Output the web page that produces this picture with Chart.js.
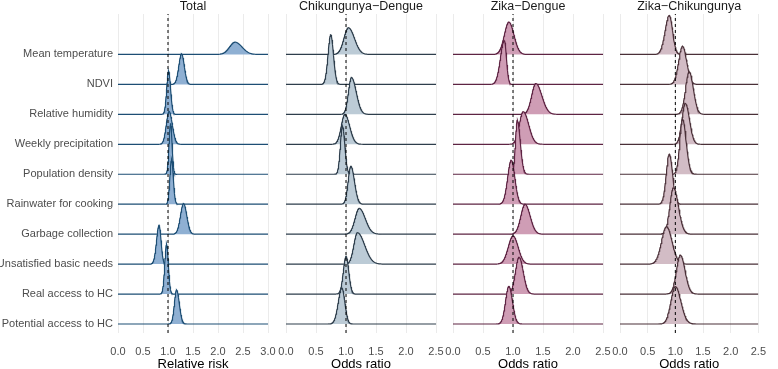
<!DOCTYPE html>
<html>
<head>
<meta charset="utf-8">
<script src="https://cdn.jsdelivr.net/npm/chart.js@4.4.1/dist/chart.umd.min.js"></script>
<style>
  html, body { margin: 0; padding: 0; background: #fff; }
  #wrap { position: relative; width: 778px; height: 369px; }
  #wrap canvas { position: absolute; left: 0; top: 0; }
</style>
</head>
<body>
<div id="wrap">
  <canvas id="gTotal" width="778" height="369"></canvas>
  <canvas id="gCD" width="778" height="369"></canvas>
  <canvas id="gZD" width="778" height="369"></canvas>
  <canvas id="gZC" width="778" height="369"></canvas>
</div>
<script>
// rows, top to bottom
const variables = ["Mean temperature", "NDVI", "Relative humidity", "Weekly precipitation",
  "Population density", "Rainwater for cooking", "Garbage collection",
  "Unsatisfied basic needs", "Real access to HC", "Potential access to HC"];

const ticksRR = [0, 0.5, 1, 1.5, 2, 2.5, 3];
const ticksOR = [0, 0.5, 1, 1.5, 2, 2.5];

// mode, left / right spread, ridge height (in row units)
const totalMode = [2.34, 1.27, 1.01, 1.02, 1.05, 1.07, 1.31, 0.82, 0.97, 1.17];
const totalLeft = [0.11, 0.055, 0.037, 0.055, 0.03, 0.033, 0.062, 0.05, 0.036, 0.043];
const totalRight = [0.14, 0.055, 0.04, 0.065, 0.03, 0.035, 0.065, 0.04, 0.036, 0.055];
const totalPeak = [0.41, 1.02, 1.45, 1.1, 1.7, 1.5, 1.02, 1.3, 1.67, 1.14];

const cdMode = [1.04, 0.745, 1.09, 0.98, 0.94, 1.08, 1.22, 1.19, 1.0, 0.93];
const cdLeft = [0.075, 0.045, 0.05, 0.06, 0.035, 0.045, 0.07, 0.06, 0.045, 0.06];
const cdRight = [0.1, 0.045, 0.08, 0.08, 0.04, 0.06, 0.1, 0.12, 0.045, 0.05];
const cdPeak = [0.89, 1.66, 1.23, 1.0, 1.6, 1.27, 0.86, 1.05, 1.26, 1.2];

const zdMode = [0.93, 0.855, 1.38, 1.17, 1.07, 0.97, 1.2, 1.0, 1.1, 0.93];
const zdLeft = [0.075, 0.065, 0.07, 0.065, 0.03, 0.06, 0.07, 0.08, 0.06, 0.055];
const zdRight = [0.085, 0.035, 0.1, 0.09, 0.05, 0.06, 0.085, 0.085, 0.07, 0.06];
const zdPeak = [1.08, 1.47, 1.03, 1.09, 1.8, 1.47, 1.0, 0.94, 1.23, 1.26];

const zcMode = [0.89, 1.13, 1.25, 1.18, 1.13, 0.89, 0.965, 0.84, 1.09, 1.0];
const zcLeft = [0.075, 0.07, 0.065, 0.06, 0.05, 0.055, 0.065, 0.09, 0.07, 0.08];
const zcRight = [0.06, 0.075, 0.075, 0.075, 0.065, 0.06, 0.09, 0.1, 0.085, 0.1];
const zcPeak = [1.3, 1.27, 1.42, 1.37, 1.83, 1.67, 1.55, 1.25, 1.3, 1.25];

const FONT = "'Liberation Sans', Arial, Helvetica, sans-serif";
const YMIN = -0.3, YMAX = 10.35;

const ridge = (mode, sl, sr, h, base, xmax) => {
  let pts = [];
  for (let i = 0; i <= 300; i++) {
    let x = xmax * i / 300;
    let s = x < mode ? sl : sr;
    let d = h * Math.exp(-0.5 * Math.pow((x - mode) / s, 2));
    pts.push({x: x, y: base + d});
  }
  return pts;
};

const panelTitle = {
  id: "panelTitle",
  afterDraw(chart, args, opts) {
    const {ctx, chartArea} = chart;
    ctx.save();
    ctx.font = "12.5px " + FONT;
    ctx.fillStyle = "#1a1a1a";
    ctx.textAlign = "center";
    ctx.textBaseline = "alphabetic";
    ctx.fillText(opts.text, (chartArea.left + chartArea.right) / 2, 9.5);
    ctx.restore();
  }
};

const panel = (id, titulo, ejeX, left, right, xmax, xticks, mode, sl, sr, peak, line, fill, showY) => {
  let dataset = [];
  // reference line at 1, drawn on top of everything
  dataset.push({
    data: [{x: 1, y: YMIN}, {x: 1, y: YMAX}],
    borderColor: "#000",
    borderWidth: 1,
    borderDash: [3, 3],
    pointRadius: 0,
    fill: false,
    order: 0
  });
  for (let i = 0; i < variables.length; i++) {
    let base = variables.length - 1 - i;
    dataset.push({
      label: variables[i],
      data: ridge(mode[i], sl[i], sr[i], peak[i], base, xmax),
      borderColor: line,
      borderWidth: 1.2,
      backgroundColor: fill,
      fill: {value: base},
      pointRadius: 0,
      tension: 0,
      order: base + 1   // lower rows are drawn over upper rows
    });
  }

  const config = {
    type: "line",
    data: {datasets: dataset},
    options: {
      responsive: false,
      animation: false,
      devicePixelRatio: 1,
      layout: {padding: {left: left, right: right, top: 14, bottom: 0}},
      scales: {
        x: {
          type: "linear",
          min: 0,
          max: xmax,
          afterBuildTicks: (scale) => { scale.ticks = xticks.map(v => ({value: v})); },
          afterFit: (scale) => { scale.height = 36; },
          ticks: {
            callback: (v) => Number(v).toFixed(1),
            color: "#4d4d4d",
            font: {family: FONT, size: 11},
            padding: 12,
            maxRotation: 0,
            autoSkip: false
          },
          grid: {color: "#ebebeb", lineWidth: 1, drawTicks: false},
          border: {display: false},
          title: {
            display: true,
            text: ejeX,
            color: "#000",
            font: {family: FONT, size: 13, lineHeight: 1},
            padding: {top: 0, bottom: -2}
          }
        },
        y: {
          type: "linear",
          display: showY,
          min: YMIN,
          max: YMAX,
          afterBuildTicks: (scale) => { scale.ticks = variables.map((v, k) => ({value: k})); },
          afterFit: (scale) => { scale.width = showY ? 118 : 0; },
          ticks: {
            callback: (v) => variables[variables.length - 1 - v],
            color: "#4d4d4d",
            font: {family: FONT, size: 11},
            padding: 5,
            autoSkip: false
          },
          grid: {display: false, drawTicks: false},
          border: {display: false}
        }
      },
      plugins: {
        legend: {display: false},
        tooltip: {enabled: false},
        panelTitle: {text: titulo}
      }
    },
    plugins: [panelTitle]
  };
  return new Chart(document.getElementById(id), config);
};

panel("gTotal", "Total", "Relative risk", 0, 778 - 268, 3, ticksRR,
  totalMode, totalLeft, totalRight, totalPeak, "#1d4e74", "#8fb0d3", true);
panel("gCD", "Chikungunya\u2212Dengue", "Odds ratio", 286, 778 - 436, 2.5, ticksOR,
  cdMode, cdLeft, cdRight, cdPeak, "#2e3e4c", "#bccbd6", false);
panel("gZD", "Zika\u2212Dengue", "Odds ratio", 453, 778 - 603, 2.5, ticksOR,
  zdMode, zdLeft, zdRight, zdPeak, "#5e2443", "#cf9db5", false);
panel("gZC", "Zika\u2212Chikungunya", "Odds ratio", 620, 778 - 771, 2.5, ticksOR,
  zcMode, zcLeft, zcRight, zcPeak, "#4a3038", "#d2bcc5", false);
</script>
</body>
</html>
